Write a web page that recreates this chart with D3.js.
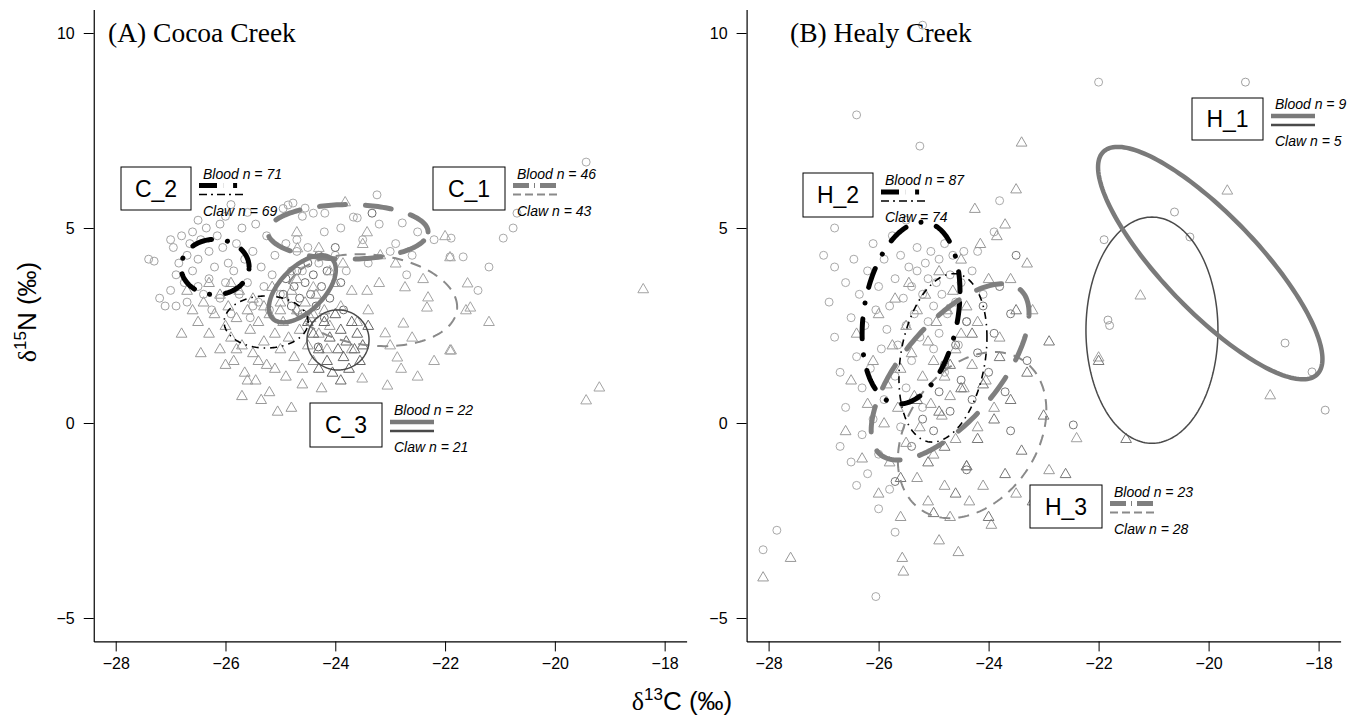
<!DOCTYPE html>
<html><head><meta charset="utf-8">
<script src="https://cdn.jsdelivr.net/npm/d3@7"></script>
<style>body{margin:0;background:#fff}svg{display:block}</style>
</head><body>
<svg id="c" width="1364" height="721"></svg>
<script>
// ---------- data ----------
const xTicks = [-28, -26, -24, -22, -20, -18];
const yTicks = [-5, 0, 5, 10];
const xDomain = [-28.4, -17.6];
const yDomain = [-5.6, 10.6];
const panelTitles = ["(A) Cocoa Creek", "(B) Healy Creek"];

// Cocoa Creek blood (circles) by group
const cocoaBlood1 = [[-19.43,6.69],[-20.69,5.38],[-20.76,5.0],[-20.94,4.74],[-21.89,4.74],[-21.67,4.26],[-21.91,4.26],[-23.24,5.85],[-23.67,5.28],[-23.6,5.26],[-24.19,5.38],[-24.4,5.38],[-24.55,5.51],[-24.77,5.64],[-24.86,5.59],[-22.78,5.13],[-24.2,4.9],[-23.9,5.0],[-23.5,4.7],[-23.2,5.1],[-22.9,4.6],[-22.6,4.3],[-24.5,4.5],[-24.0,4.3],[-23.4,4.1],[-22.5,4.9],[-24.7,4.7],[-24.3,4.1],[-23.0,4.4],[-22.2,4.7],[-23.8,3.9],[-24.6,3.9],[-22.7,3.8],[-21.4,3.4],[-21.2,4.0]];
const cocoaBlood2 = [[-27.4,4.2],[-27.3,4.15],[-27.2,3.2],[-27.1,3.0],[-27.0,3.4],[-26.95,4.5],[-26.9,3.8],[-26.85,4.1],[-26.8,4.8],[-26.75,3.6],[-26.7,4.3],[-26.7,3.1],[-26.65,4.6],[-26.6,3.9],[-26.6,4.9],[-26.5,3.5],[-26.5,4.2],[-26.45,4.7],[-26.4,3.3],[-26.35,5.0],[-26.3,4.4],[-26.3,3.7],[-26.25,2.9],[-26.2,4.0],[-26.15,4.8],[-26.1,3.2],[-26.05,4.5],[-26.0,3.6],[-26.0,5.3],[-25.95,4.1],[-25.9,2.8],[-25.85,3.9],[-25.8,4.6],[-25.75,3.3],[-25.7,5.0],[-25.65,4.2],[-25.6,3.6],[-25.55,2.7],[-25.5,4.4],[-25.45,5.1],[-25.4,3.1],[-25.35,4.0],[-25.3,3.5],[-25.25,4.8],[-25.2,2.9],[-25.15,3.8],[-25.1,4.3],[-25.0,3.3],[-24.95,5.5],[-24.9,4.6],[-25.9,5.6],[-26.1,5.1],[-26.5,5.2],[-25.6,5.4],[-24.8,3.9],[-27.0,4.7],[-26.9,3.0],[-25.5,3.0],[-24.7,4.4],[-24.6,5.3]];
const cocoaBlood3 = [[-24.95,3.3],[-24.9,3.7],[-24.8,3.0],[-24.75,3.5],[-24.7,3.9],[-24.65,3.2],[-24.6,2.8],[-24.55,3.6],[-24.5,4.1],[-24.45,3.3],[-24.4,3.8],[-24.35,3.0],[-24.3,4.3],[-24.25,3.5],[-24.2,2.7],[-24.15,3.9],[-24.1,3.2],[-24.0,4.5],[-23.9,3.6],[-23.85,2.9],[-23.33,5.38],[-24.31,1.95]];
// Cocoa Creek claw (triangles) by group
const cocoaClaw1 = [[-21.59,3.59],[-21.54,2.97],[-21.62,2.9],[-21.89,1.87],[-18.39,3.44],[-19.19,0.92],[-19.43,0.59],[-21.91,4.26],[-22.73,3.49],[-22.76,2.56],[-22.33,2.97],[-23.09,2.31],[-22.87,1.69],[-23.05,0.97],[-21.91,1.87],[-23.86,4.1],[-23.82,5.67],[-23.42,4.9],[-24.7,4.9],[-24.69,4.49],[-23.18,4.31],[-22.31,3.23],[-23.7,3.4],[-23.42,3.4],[-24.4,3.49],[-23.9,3.0],[-23.6,2.6],[-23.2,3.6],[-22.9,4.1],[-22.6,2.2],[-22.4,3.7],[-23.0,2.0],[-23.7,1.9],[-22.2,1.6],[-23.4,2.9],[-24.1,3.9],[-22.0,4.8],[-21.2,2.6],[-24.3,4.5],[-23.5,4.6],[-22.8,1.4],[-22.5,1.2],[-23.51,1.15]];
const cocoaClaw2 = [[-26.6,2.9],[-26.5,2.6],[-26.4,3.1],[-26.3,2.3],[-26.2,2.8],[-26.1,3.3],[-26.1,1.9],[-26.0,2.5],[-25.95,3.0],[-25.9,2.2],[-25.85,1.6],[-25.8,2.7],[-25.75,3.4],[-25.7,2.0],[-25.65,1.3],[-25.6,2.9],[-25.55,2.4],[-25.5,1.8],[-25.5,3.2],[-25.45,1.1],[-25.4,2.6],[-25.35,0.6],[-25.3,2.1],[-25.3,3.0],[-25.25,1.5],[-25.2,2.8],[-25.15,3.5],[-25.1,2.3],[-25.05,0.3],[-25.0,1.9],[-25.0,3.1],[-24.95,2.6],[-24.9,1.2],[-24.85,2.2],[-24.8,3.4],[-24.75,1.7],[-24.7,2.9],[-24.65,2.4],[-24.6,1.4],[-24.55,3.1],[-24.5,2.0],[-24.45,2.7],[-24.4,1.6],[-24.35,3.3],[-24.3,2.3],[-24.25,0.9],[-24.2,2.9],[-24.15,1.9],[-24.1,2.5],[-24.0,3.6],[-26.8,2.3],[-26.7,3.4],[-26.45,1.8],[-25.9,3.6],[-25.7,0.7],[-25.6,1.1],[-25.2,0.8],[-24.8,0.4],[-24.6,1.0],[-26.3,3.6],[-25.0,2.9],[-24.7,3.7],[-25.4,1.6],[-25.8,1.9],[-24.4,2.8],[-26.0,1.5],[-25.1,1.4]];
const cocoaClaw3 = [[-24.4,2.3],[-24.3,1.9],[-24.2,2.6],[-24.15,1.6],[-24.1,2.2],[-24.05,1.3],[-24.0,2.8],[-23.95,1.9],[-23.9,2.4],[-23.85,1.7],[-23.8,2.1],[-23.75,1.4],[-23.7,2.6],[-23.65,1.9],[-23.6,2.3],[-23.55,1.6],[-23.5,2.0],[-23.9,1.1],[-24.3,1.4],[-23.4,2.5],[-24.5,2.6]];

// Healy Creek blood (circles)
const healyBlood1 = [[-19.33,8.74],[-20.62,5.41],[-20.34,4.77],[-18.61,2.05],[-18.12,1.31],[-17.88,0.33],[-21.83,2.64],[-21.8,2.5],[-21.9,4.7]];
const healyBlood2 = [[-27.0,4.3],[-26.9,3.1],[-26.8,2.2],[-26.8,4.0],[-26.7,1.3],[-26.7,-0.6],[-26.6,3.6],[-26.6,0.4],[-26.5,2.7],[-26.5,-1.0],[-26.45,4.2],[-26.4,1.7],[-26.4,-1.6],[-26.35,3.3],[-26.3,0.9],[-26.3,-0.3],[-26.25,2.5],[-26.2,3.9],[-26.2,-1.3],[-26.15,1.4],[-26.1,4.6],[-26.1,0.1],[-26.05,2.9],[-26.0,3.5],[-26.0,-0.8],[-25.95,1.9],[-25.9,4.2],[-25.9,0.6],[-25.85,2.4],[-25.8,3.0],[-25.8,-1.7],[-25.75,4.8],[-25.7,1.2],[-25.7,3.7],[-25.65,2.0],[-25.6,4.3],[-25.6,-0.1],[-25.55,3.2],[-25.5,2.5],[-25.5,0.9],[-25.45,4.0],[-25.4,3.5],[-25.4,1.6],[-25.35,2.8],[-25.3,4.5],[-25.3,3.9],[-25.25,2.2],[-25.2,3.3],[-25.2,0.4],[-25.15,4.1],[-25.1,3.7],[-25.1,2.6],[-25.05,4.4],[-25.0,3.0],[-25.0,1.9],[-24.95,3.6],[-24.9,4.2],[-24.9,2.3],[-24.85,3.3],[-24.8,4.6],[-24.8,1.3],[-24.75,2.8],[-24.7,3.8],[-24.65,4.3],[-24.6,3.1],[-24.55,2.0],[-24.5,3.6],[-24.45,4.4],[-24.4,2.6],[-24.3,3.9],[-24.2,4.4],[-24.1,3.3],[-23.9,4.9],[-23.8,5.7],[-26.4,7.9],[-25.25,7.1],[-25.2,10.2],[-26.05,-4.45],[-28.1,-3.25],[-27.85,-2.75],[-26.0,-2.2],[-25.7,-2.8],[-26.8,5.0],[-25.5,5.2],[-22.0,8.74]];
const healyBlood3 = [[-25.4,-0.6],[-25.2,0.1],[-25.0,-0.2],[-24.9,0.8],[-24.8,1.5],[-24.7,0.3],[-24.6,2.0],[-24.5,1.1],[-24.4,2.6],[-24.3,0.6],[-24.2,1.8],[-24.1,3.0],[-24.0,1.3],[-23.9,2.3],[-23.8,3.5],[-23.7,0.8],[-23.6,2.8],[-23.5,4.3],[-23.3,1.6],[-22.46,-0.05],[-24.4,-1.2],[-25.7,-1.5],[-23.6,-0.2]];
// Healy Creek claw (triangles)
const healyClaw1 = [[-19.66,5.97],[-21.24,3.28],[-18.88,0.72],[-22.0,1.69],[-22.4,-0.38]];
const healyClaw2 = [[-28.1,-3.95],[-27.6,-3.45],[-26.6,-0.2],[-26.5,1.1],[-26.4,2.3],[-26.3,-0.9],[-26.2,0.5],[-26.1,1.6],[-26.0,-1.8],[-26.0,2.8],[-25.9,0.0],[-25.85,1.0],[-25.8,-1.0],[-25.75,2.0],[-25.7,3.2],[-25.65,0.4],[-25.6,-2.4],[-25.6,1.4],[-25.55,-3.8],[-25.5,2.5],[-25.5,-0.5],[-25.45,3.6],[-25.4,1.8],[-25.35,0.7],[-25.3,-1.4],[-25.3,2.9],[-25.25,-0.1],[-25.2,1.2],[-25.15,3.3],[-25.1,2.1],[-25.1,-2.0],[-25.05,0.5],[-25.0,1.6],[-25.0,-0.8],[-24.95,2.6],[-24.9,3.9],[-24.9,-3.0],[-24.85,0.2],[-24.8,1.2],[-24.8,-1.6],[-24.75,2.9],[-24.7,0.7],[-24.7,-2.4],[-24.65,3.4],[-24.6,1.9],[-24.6,-0.4],[-24.55,-3.3],[-24.5,2.3],[-24.5,4.2],[-24.45,0.9],[-24.4,-1.1],[-24.4,3.0],[-24.35,-2.0],[-24.3,1.5],[-24.25,5.5],[-24.2,-0.1],[-24.2,2.6],[-24.15,4.6],[-24.1,-1.6],[-24.05,1.1],[-24.0,3.7],[-23.95,-2.6],[-23.9,0.4],[-23.85,4.8],[-23.8,2.2],[-23.7,5.1],[-23.6,3.7],[-23.5,6.0],[-23.4,7.2],[-23.3,4.1],[-23.2,2.9],[-22.9,-1.2],[-23.5,-1.8],[-25.57,-3.45]];
const healyClaw3 = [[-25.6,-1.4],[-25.3,0.6],[-25.1,-1.0],[-25.0,-2.3],[-24.9,0.3],[-24.8,-0.6],[-24.7,1.5],[-24.6,-1.8],[-24.5,0.9],[-24.4,-1.1],[-24.3,2.3],[-24.2,-0.4],[-24.1,1.0],[-24.0,-2.4],[-23.9,0.1],[-23.8,1.7],[-23.7,-1.3],[-23.6,0.6],[-23.5,2.9],[-23.4,-0.7],[-23.3,1.3],[-23.2,-2.0],[-23.0,0.2],[-22.9,2.1],[-22.6,-1.3],[-22.4,-1.8],[-22.0,1.6],[-21.5,-0.4]];

// Standard ellipses: [centreX, centreY, sdX, sdY, correlation]
const cocoaEllipseBlood = {C_1:[-23.77,4.90,1.46,0.70,0.0], C_2:[-26.19,4.0,0.62,0.71,0.0], C_3:[-24.60,3.44,0.61,0.86,0.57]};
const cocoaEllipseClaw  = {C_1:[-23.33,3.15,1.55,1.18,-0.15], C_2:[-25.26,2.59,0.765,0.667,0.0], C_3:[-23.95,2.13,0.565,0.77,0.0]};
const healyEllipseBlood = {H_1:[-19.97,4.1,2.04,2.98,-0.825], H_2:[-25.41,2.82,0.89,2.33,0.235], H_3:[-24.70,1.31,1.435,2.26,0.665]};
const healyEllipseClaw  = {H_1:[-21.03,2.38,1.2,2.9,0.0], H_2:[-24.83,1.67,0.80,2.16,0.244], H_3:[-24.30,-0.31,1.35,2.13,0.3]};

const cocoaLegend = {C_1:["Blood n = 46","Claw n = 43"], C_2:["Blood n = 71","Claw n = 69"], C_3:["Blood n = 22","Claw n = 21"]};
const healyLegend = {H_1:["Blood n = 9","Claw n = 5"], H_2:["Blood n = 87","Claw = 74"], H_3:["Blood n = 23","Claw n = 28"]};

// ---------- styles / layout ----------
const lineStyle = {
  dashBlood:  {stroke:"#7f7f7f", w:5,   dash:"26,20", cap:"round", legDash:"16,5,1,5"},
  dashClaw:   {stroke:"#8a8a8a", w:2,   dash:"11,8",  cap:"butt",  legDash:"8,4"},
  ddBlood:    {stroke:"#000",    w:5,   dash:"20,16,0.1,16", cap:"round", legDash:"18,6,0.1,10,4,6"},
  ddClaw:     {stroke:"#000",    w:1.6, dash:"7,5,1.5,5", cap:"butt", legDash:"8,4,2,4"},
  solidBlood: {stroke:"#7a7a7a", w:4.5, dash:null, cap:"butt", legDash:null},
  solidClaw:  {stroke:"#4a4a4a", w:1.5, dash:null, cap:"butt", legDash:null}
};
const groupKind = {C_1:["dashBlood","dashClaw"], C_2:["ddBlood","ddClaw"], C_3:["solidBlood","solidClaw"],
                   H_3:["dashBlood","dashClaw"], H_2:["ddBlood","ddClaw"], H_1:["solidBlood","solidClaw"]};

const svg = d3.select("#c");
const yScale = d3.scaleLinear().domain(yDomain).range([641.4, 9.6]);

const panels = [
  {range:[93.75,686.6], title:panelTitles[0], titleX:108,
   blood:[[cocoaBlood1,"#a9a9a9"],[cocoaBlood2,"#a3a3a3"],[cocoaBlood3,"#6a6a6a"]],
   claw:[[cocoaClaw1,"#a3a3a3"],[cocoaClaw2,"#999"],[cocoaClaw3,"#666"]],
   eBlood:cocoaEllipseBlood, eClaw:cocoaEllipseClaw, legend:cocoaLegend,
   boxes:{C_2:[121,167,70,43], C_1:[433,167,72,43], C_3:[310,403,72,44]}},
  {range:[746.6,1340.6], title:panelTitles[1], titleX:790,
   blood:[[healyBlood1,"#a0a0a0"],[healyBlood2,"#a9a9a9"],[healyBlood3,"#777"]],
   claw:[[healyClaw1,"#a0a0a0"],[healyClaw2,"#999"],[healyClaw3,"#777"]],
   eBlood:healyEllipseBlood, eClaw:healyEllipseClaw, legend:healyLegend,
   boxes:{H_2:[803,173,70,44], H_1:[1192,98,71,42], H_3:[1030,485,72,43]}}
];

function ellipsePts(p){
  const [cx,cy,sx,sy,r]=p, k=Math.sqrt(1-r*r), out=[];
  for(let i=0;i<=180;i++){const t=i/180*2*Math.PI;
    out.push([cx+sx*Math.cos(t), cy+sy*(r*Math.cos(t)+k*Math.sin(t))]);}
  return out;
}
const sans = "Liberation Sans, Arial, Helvetica, sans-serif";

panels.forEach(P=>{
  const x = d3.scaleLinear().domain(xDomain).range(P.range);
  const g = svg.append("g");
  // axes
  const ax = g.append("g").attr("transform",`translate(0,${yScale.range()[0]})`)
    .call(d3.axisBottom(x).tickValues(xTicks).tickSize(10).tickPadding(6).tickSizeOuter(0));
  const ay = g.append("g").attr("transform",`translate(${P.range[0]},0)`)
    .call(d3.axisLeft(yScale).tickValues(yTicks).tickSize(10).tickPadding(9).tickSizeOuter(0));
  [ax,ay].forEach(a=>{a.selectAll("text").attr("font-family",sans).attr("font-size",16).attr("fill","#000");
    a.select(".domain").attr("stroke","#000").attr("stroke-width",1.2);
    a.selectAll(".tick line").attr("stroke","#000").attr("stroke-width",1);});
  // points
  P.blood.forEach(([arr,col])=>{
    g.append("g").selectAll("circle").data(arr).join("circle")
      .attr("cx",d=>x(d[0])).attr("cy",d=>yScale(d[1])).attr("r",4)
      .attr("fill","none").attr("stroke",col).attr("stroke-width",1);
  });
  const tri = d3.symbol().type(d3.symbolTriangle).size(50);
  P.claw.forEach(([arr,col])=>{
    g.append("g").selectAll("path").data(arr).join("path")
      .attr("d",tri).attr("transform",d=>`translate(${x(d[0])},${yScale(d[1])+0.8})`)
      .attr("fill","none").attr("stroke",col).attr("stroke-width",1);
  });
  // ellipses
  const line = d3.line().x(d=>x(d[0])).y(d=>yScale(d[1]));
  Object.keys(P.eClaw).forEach(k=>{
    const s=lineStyle[groupKind[k][1]];
    g.append("path").attr("d",line(ellipsePts(P.eClaw[k]))).attr("fill","none")
      .attr("stroke",s.stroke).attr("stroke-width",s.w).attr("stroke-dasharray",s.dash).attr("stroke-linecap",s.cap);
  });
  Object.keys(P.eBlood).forEach(k=>{
    const s=lineStyle[groupKind[k][0]];
    g.append("path").attr("d",line(ellipsePts(P.eBlood[k]))).attr("fill","none")
      .attr("stroke",s.stroke).attr("stroke-width",s.w).attr("stroke-dasharray",s.dash).attr("stroke-linecap",s.cap);
  });
  // legend boxes
  Object.keys(P.boxes).forEach(k=>{
    const [bx,by,bw,bh]=P.boxes[k];
    g.append("rect").attr("x",bx).attr("y",by).attr("width",bw).attr("height",bh)
      .attr("fill","#fff").attr("stroke","#000").attr("stroke-width",1);
    g.append("text").attr("x",bx+bw/2).attr("y",by+bh/2+8).attr("text-anchor","middle")
      .attr("font-family",sans).attr("font-size",23).text(k);
    const lx=bx+bw+8, ly=by+bh/2-3;
    const sb=lineStyle[groupKind[k][0]], sc=lineStyle[groupKind[k][1]];
    g.append("line").attr("x1",lx).attr("x2",lx+44).attr("y1",ly).attr("y2",ly)
      .attr("stroke",sb.stroke).attr("stroke-width",sb.w).attr("stroke-dasharray",sb.legDash);
    g.append("line").attr("x1",lx).attr("x2",lx+44).attr("y1",ly+9).attr("y2",ly+9)
      .attr("stroke",sc.stroke).attr("stroke-width",sc.w===1.5?2.5:sc.w).attr("stroke-dasharray",sc.legDash);
    g.append("text").attr("x",lx+4).attr("y",ly-7).attr("font-family",sans)
      .attr("font-style","italic").attr("font-size",14).text(P.legend[k][0]);
    g.append("text").attr("x",lx+4).attr("y",ly+30).attr("font-family",sans)
      .attr("font-style","italic").attr("font-size",14).text(P.legend[k][1]);
  });
  // title
  g.append("text").attr("x",P.titleX).attr("y",42).attr("font-family","Liberation Serif, Times New Roman, serif")
    .attr("font-size",27.5).text(P.title);
});

// axis titles
const yl = svg.append("text").attr("transform","translate(36,312) rotate(-90)").attr("text-anchor","middle")
  .attr("font-family",sans).attr("font-size",26);
yl.append("tspan").attr("font-family","Liberation Serif, serif").text("δ");
yl.append("tspan").attr("font-size",17).attr("dy",-10).text("15");
yl.append("tspan").attr("dy",10).text("N (‰)");
const xl = svg.append("text").attr("x",682).attr("y",710).attr("text-anchor","middle")
  .attr("font-family",sans).attr("font-size",26);
xl.append("tspan").attr("font-family","Liberation Serif, serif").text("δ");
xl.append("tspan").attr("font-size",17).attr("dy",-10).text("13");
xl.append("tspan").attr("dy",10).text("C (‰)");
</script>
</body></html>
